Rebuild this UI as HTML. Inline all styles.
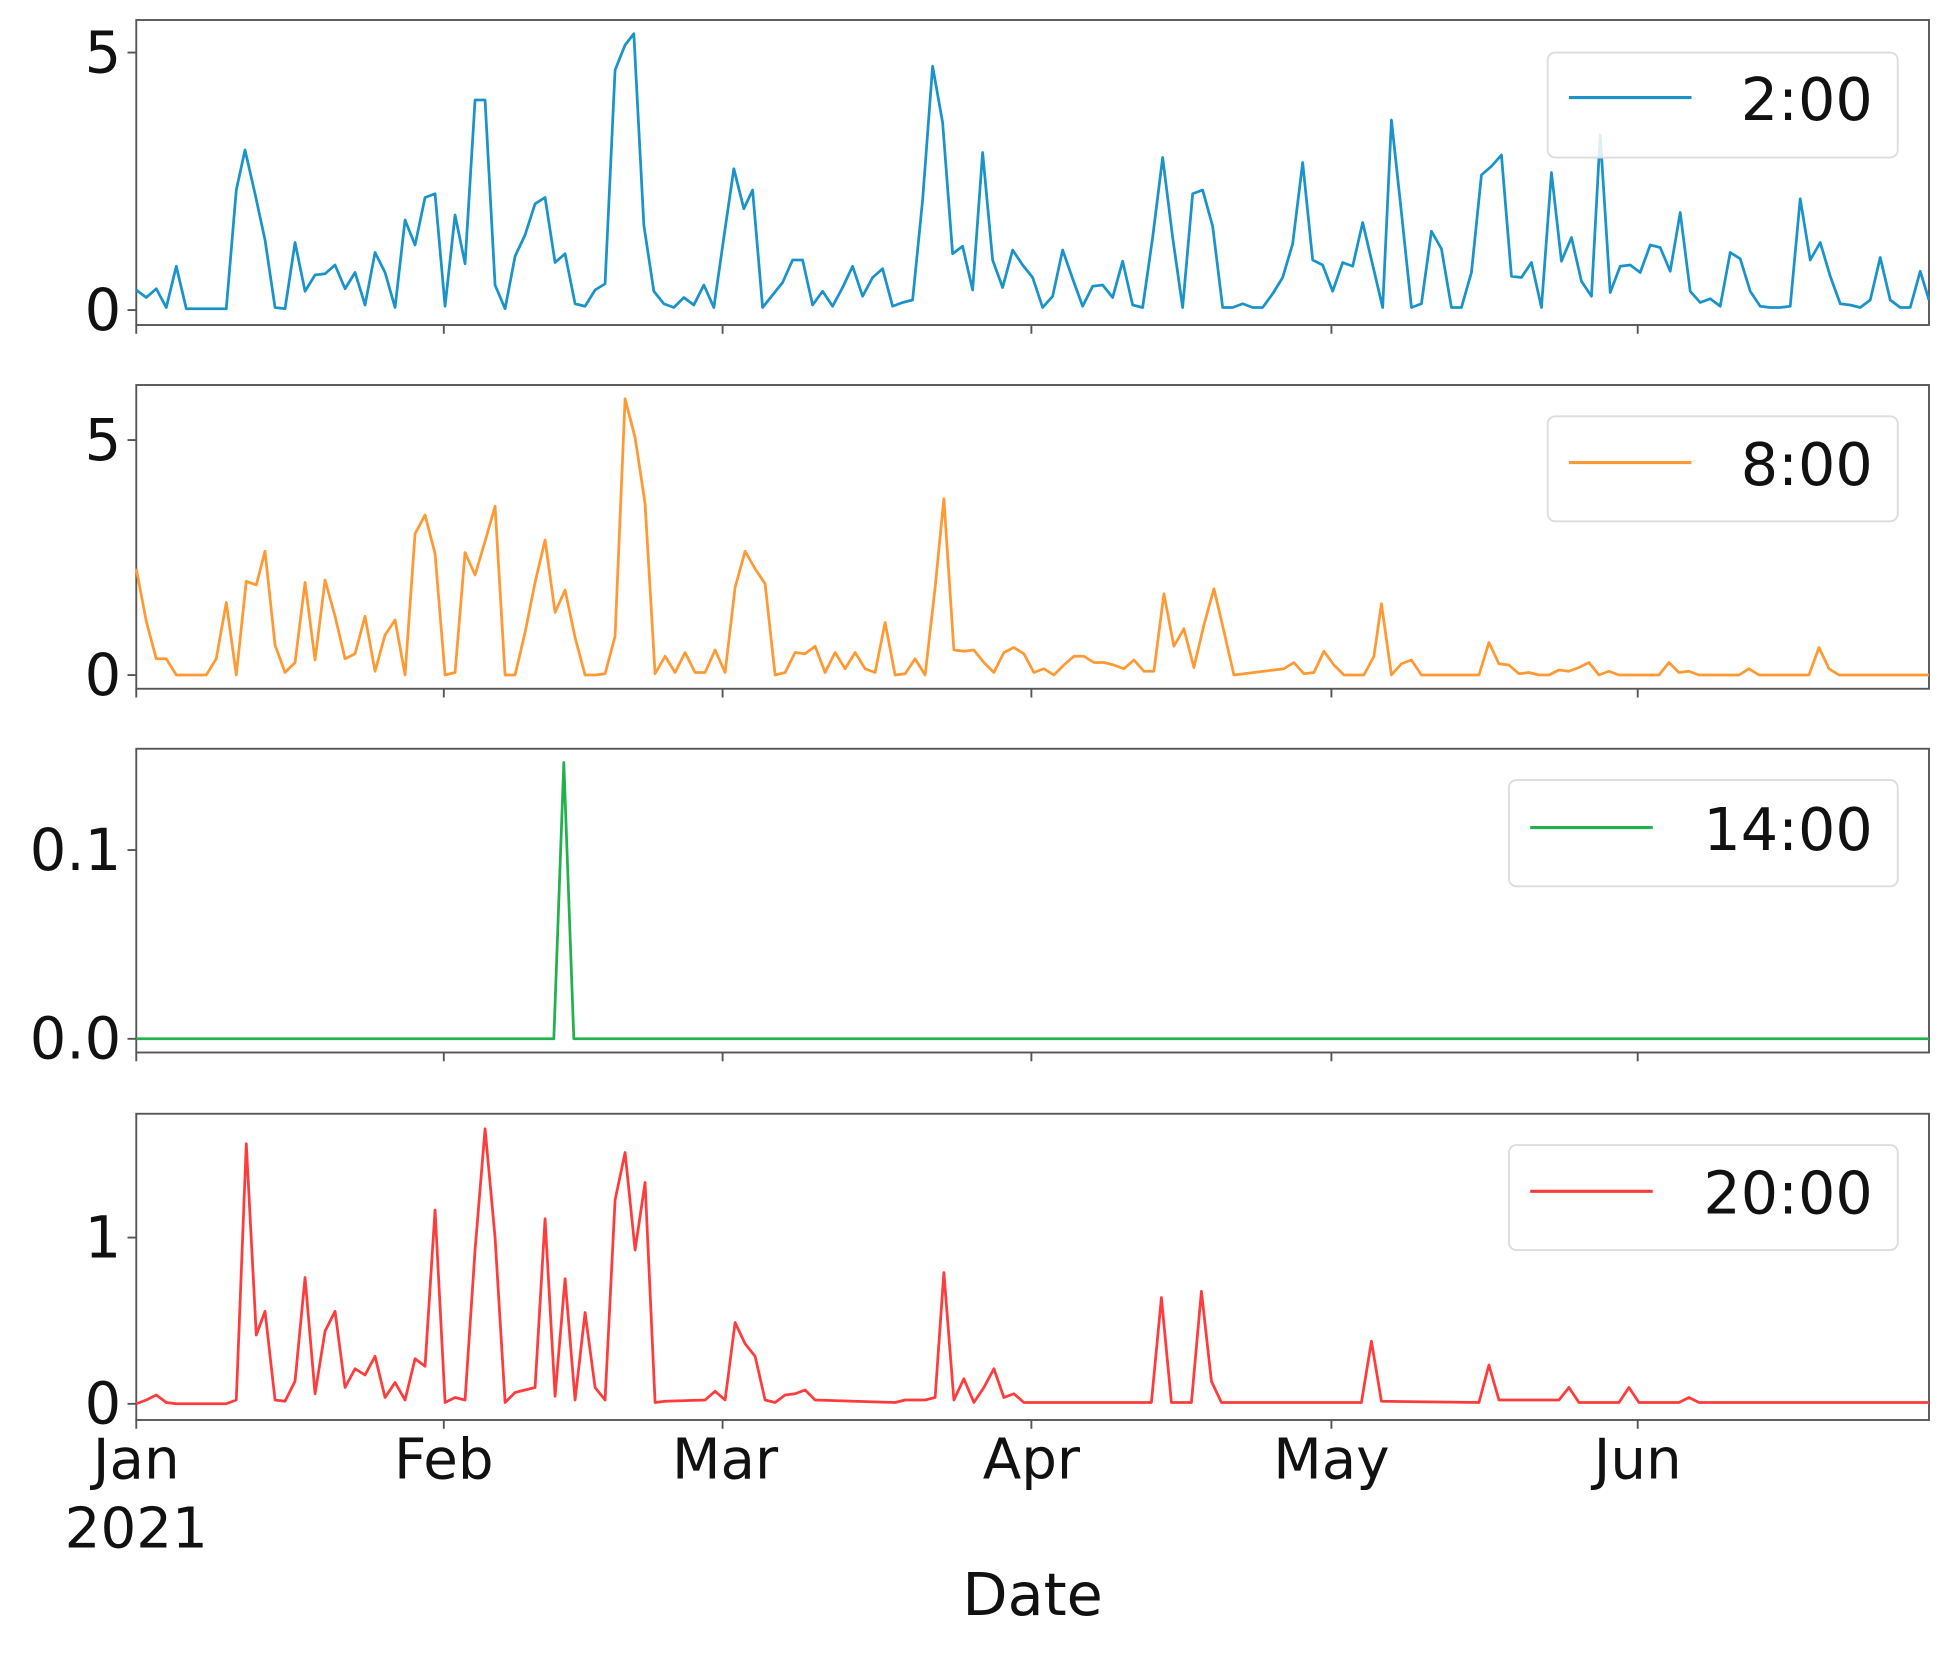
<!DOCTYPE html>
<html><head><meta charset="utf-8"><style>html,body{margin:0;padding:0;background:#fff}svg{display:block}</style></head>
<body>
<svg width="1959" height="1655" viewBox="0 0 1567 1324" preserveAspectRatio="none" xmlns="http://www.w3.org/2000/svg" font-family="DejaVu Sans, Liberation Sans, sans-serif">
<rect width="1567" height="1324" fill="#fff"/>
<g fill="none" stroke="#555" stroke-width="1.5">
<rect x="109" y="16" width="1434" height="244"/>
<rect x="109" y="308" width="1434" height="243"/>
<rect x="109" y="599" width="1434" height="243"/>
<rect x="109" y="891" width="1434" height="245"/>
</g>
<g stroke="#555" stroke-width="1.5">
<path d="M109,260v7M355,260v7M578,260v7M825,260v7M1065,260v7M1310,260v7M109,551v7M355,551v7M578,551v7M825,551v7M1065,551v7M1310,551v7M109,842v7M355,842v7M578,842v7M825,842v7M1065,842v7M1310,842v7M109,1136v7M355,1136v7M578,1136v7M825,1136v7M1065,1136v7M1310,1136v7"/>
<path d="M102,248h7M102,42h7M102,540h7M102,352h7M102,831h7M102,680h7M102,1123h7M102,990h7"/>
</g>
<g font-size="46" fill="#111" text-anchor="end">
<text x="97" y="264">0</text><text x="97" y="58">5</text>
<text x="97" y="556">0</text><text x="97" y="368">5</text>
<text x="97" y="847">0.0</text><text x="97" y="696">0.1</text>
<text x="97" y="1139">0</text><text x="97" y="1006">1</text>
</g>
<g font-size="45" fill="#111" text-anchor="middle">
<text x="109" y="1183">Jan</text><text x="109" y="1238">2021</text>
<text x="355" y="1183">Feb</text><text x="580" y="1183">Mar</text><text x="825" y="1183">Apr</text><text x="1065" y="1183">May</text><text x="1310" y="1183">Jun</text>
<text x="826" y="1292" font-size="47">Date</text>
</g>
<g fill="none" stroke-width="2.2" stroke-linejoin="round">
<polyline stroke="#1a93c9" points="109,232 117,238 125,231 133,246 141,213 149,247 157,247 181,247 189,152 196,120 204,155 212,192 220,246 228,247 236,194 244,233 252,220 260,219 268,212 276,231 284,218 292,244 300,202 308,218 316,246 324,176 332,196 340,158 348,155 356,245 364,172 372,211 380,80 388,80 396,228 404,247 412,205 420,188 428,163 436,158 444,210 452,203 460,243 468,245 476,232 484,227 492,56 500,36 507,27 515,180 523,233 531,243 539,246 547,238 555,244 563,228 571,246 579,190 587,135 595,167 602,152 610,246 618,236 626,226 634,208 642,208 650,244 658,233 666,245 674,230 682,213 690,237 698,222 706,215 714,245 722,242 730,240 738,160 746,53 754,98 762,203 770,197 778,232 786,122 794,208 802,230 810,200 818,212 826,222 834,246 842,237 850,200 858,223 866,245 874,229 882,228 890,238 898,209 906,244 914,246 922,190 930,126 938,190 946,246 954,155 962,152 970,181 978,246 986,246 994,243 1002,246 1010,246 1018,235 1026,222 1034,195 1042,130 1050,208 1058,212 1066,233 1074,210 1082,213 1090,178 1098,212 1106,246 1113,96 1121,170 1129,246 1137,243 1145,185 1153,199 1161,246 1169,246 1177,218 1185,140 1193,133 1201,124 1209,221 1217,222 1225,210 1233,246 1241,138 1249,209 1257,190 1265,225 1273,237 1280,108 1288,234 1296,213 1304,212 1312,218 1320,196 1328,198 1336,217 1344,170 1352,233 1360,242 1368,239 1376,245 1384,202 1392,207 1400,233 1408,245 1416,246 1424,246 1432,245 1440,159 1448,208 1456,194 1464,221 1472,243 1480,244 1488,246 1496,240 1504,206 1512,240 1520,246 1528,246 1536,217 1543,240"/>
<polyline stroke="#ff9933" points="109,455 117,497 125,527 133,527 141,540 165,540 173,527 181,482 189,540 197,465 205,468 212,441 220,516 228,538 236,530 244,466 252,528 260,464 268,493 276,527 284,523 292,493 300,537 308,508 316,496 324,540 332,427 340,412 348,443 356,540 364,538 372,442 380,460 388,433 396,405 404,540 412,540 420,506 428,466 436,432 444,490 452,472 460,510 468,540 476,540 484,539 492,509 500,319 508,350 516,403 524,539 532,525 540,538 548,522 556,538 564,538 572,520 580,538 588,470 596,441 604,455 612,467 620,540 628,538 636,522 644,523 652,517 660,538 668,522 676,535 684,522 692,535 700,538 708,498 716,540 724,539 732,527 740,540 748,470 755,399 763,520 771,521 779,520 787,530 795,538 803,522 811,518 819,523 827,538 835,535 843,540 851,532 859,525 867,525 875,530 883,530 891,532 899,535 907,528 915,537 923,537 931,475 939,517 947,503 955,534 963,500 971,471 979,505 987,540 1027,535 1035,530 1043,539 1051,538 1059,521 1067,532 1075,540 1091,540 1099,525 1105,483 1113,540 1121,531 1129,528 1137,540 1183,540 1191,514 1199,531 1207,532 1215,539 1223,538 1231,540 1239,540 1247,536 1255,537 1263,534 1271,530 1279,540 1287,537 1295,540 1327,540 1335,530 1343,538 1351,537 1359,540 1391,540 1399,535 1407,540 1447,540 1455,518 1463,535 1471,540 1543,540"/>
<polyline stroke="#22b14c" points="109,831 443,831 451,610 459,831 1543,831"/>
<polyline stroke="#ff3b3b" points="109,1123 117,1120 125,1116 133,1122 141,1123 181,1123 189,1120 197,915 205,1068 212,1049 220,1120 228,1121 236,1105 244,1022 252,1115 260,1065 268,1049 276,1110 284,1095 292,1100 300,1085 308,1118 316,1106 324,1120 332,1087 340,1093 348,968 356,1122 364,1118 372,1120 380,1000 388,903 396,990 404,1122 412,1114 420,1112 428,1110 436,975 444,1117 452,1023 460,1120 468,1050 476,1110 484,1120 492,960 500,922 508,1000 516,946 524,1122 532,1121 564,1120 572,1113 580,1120 588,1058 596,1075 604,1085 612,1120 620,1122 628,1116 636,1115 644,1112 652,1120 716,1122 724,1120 740,1120 748,1118 755,1018 763,1120 771,1103 779,1122 787,1110 795,1095 803,1118 811,1115 819,1122 921,1122 929,1038 937,1122 953,1122 961,1033 969,1105 977,1122 1089,1122 1097,1073 1105,1121 1183,1122 1191,1092 1199,1120 1247,1120 1255,1110 1263,1122 1295,1122 1303,1110 1311,1122 1343,1122 1351,1118 1359,1122 1543,1122"/>
</g>
<g fill="#fff" fill-opacity="0.85" stroke="#ddd" stroke-width="1.5">
<rect x="1238" y="42" width="280" height="84" rx="6"/>
<rect x="1238" y="333" width="280" height="84" rx="6"/>
<rect x="1207" y="624" width="311" height="85" rx="6"/>
<rect x="1207" y="916" width="311" height="84" rx="6"/>
</g>
<g stroke-width="2.5">
<line x1="1255" y1="78" x2="1353" y2="78" stroke="#1a93c9"/>
<line x1="1255" y1="370" x2="1353" y2="370" stroke="#ff9933"/>
<line x1="1224" y1="662" x2="1322" y2="662" stroke="#22b14c"/>
<line x1="1224" y1="953" x2="1322" y2="953" stroke="#ff3b3b"/>
</g>
<g font-size="47" fill="#111" text-anchor="end">
<text x="1498" y="96">2:00</text>
<text x="1498" y="388">8:00</text>
<text x="1498" y="680">14:00</text>
<text x="1498" y="971">20:00</text>
</g>
</svg>
</body></html>
